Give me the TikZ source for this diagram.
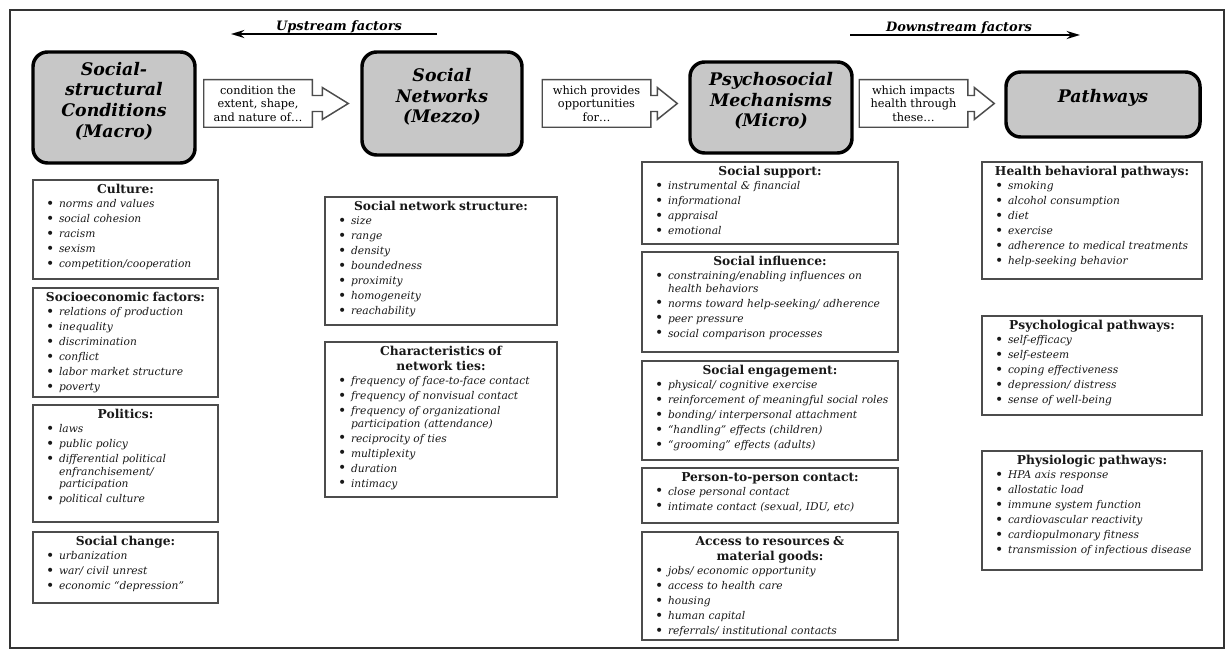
\documentclass[tikz,border=0pt]{standalone}
\usepackage{fontspec}
\setmainfont{DejaVu Serif}
\usetikzlibrary{fit,calc,arrows.meta}

\newcommand\ttl[1]{{\centering\noindent\fontsize{9.2}{11.25}\selectfont\bfseries #1\par}\vspace{-1pt}}
\newcommand\blt{\raisebox{-0.6pt}{\fontsize{10.5}{10}\selectfont\textbullet}}
\newcommand\itm[1]{{\leftskip=15.75pt\rightskip=0pt plus 1fil\noindent\llap{\blt\hspace{3.5pt}}\textit{#1}\par}}

\newcommand\blockarrow[4]{%
  \coordinate (#1-tip) at ($(#1.east -| #2.west)+(-#3,0)$);
  \coordinate (#1-base) at ($(#1-tip)+(-#4,0)$);
  \draw[arrowline] (#1.north west) -- (#1.north east) -- ($(#1.east)+(0,-8)$)
    -- ($(#1-base)+(0,-8)$) -- ($(#1-base)+(0,-16)$) -- (#1-tip)
    -- ($(#1-base)+(0,16)$) -- ($(#1-base)+(0,8)$) -- ($(#1.east)+(0,8)$)
    -- (#1.south east) -- (#1.south west) -- cycle;}

\newcommand\listbox[6]{%
  \node[sbox,fit={(#2,#3) (#4,#5)}] (#1) {};
  \pgfmathsetmacro\lbtw{(#4-#2-10)*0.75}
  \node[stext,text width=\lbtw pt] (#1-t) at ($(#1.north)+(0,5)$) {#6};}

\begin{document}
\begin{tikzpicture}[x=0.75pt,y=-0.75pt,
  frame/.style={draw=black!80,line width=1.6pt},
  bigbox/.style={draw=black,line width=2.6pt,fill=black!22,rounded corners=11pt,inner sep=0pt,align=center,
    font=\fontsize{13}{15.5}\selectfont\bfseries\itshape},
  sbox/.style={draw=black!70,line width=1.1pt,inner sep=0pt},
  stext/.style={anchor=north,inner sep=0pt,text=black!90,
    font=\fontsize{8}{9.5}\selectfont\setlength{\parskip}{1.75pt}\setlength{\parindent}{0pt}},
  abox/.style={inner sep=0pt,minimum width=81pt,minimum height=35.25pt,align=center,
    font=\fontsize{8.5}{10}\selectfont},
  arrowline/.style={draw=black!70,line width=1.1pt},
  hdrarrow/.style={line width=1.5pt,-{Stealth[length=10pt,width=6pt]}},
  hdrtext/.style={font=\fontsize{9.7}{11}\selectfont\bfseries\itshape,inner sep=0pt,anchor=base}]

\useasboundingbox (0,0) rectangle (1227,652);
\fill[white] (0,0) rectangle (1227,652);
\draw[frame] (10,10) rectangle (1224,648);

% header arrows
\coordinate (upR) at (437,34);
\coordinate (upL) at (231,34);
\draw[hdrarrow] (upR) -- (upL);
\node[hdrtext] (up) at (339,31) {Upstream factors};
\coordinate (dnL) at (850,35);
\coordinate (dnR) at (1080,35);
\draw[hdrarrow] (dnL) -- (dnR);
\node[hdrtext] (dn) at (959,32) {Downstream factors};

% main boxes
\node[bigbox,fit={(33,52) (195,163)}] (macro) {Social-\\structural\\Conditions\\(Macro)};
\node[bigbox,fit={(362,52) (522,155)}] (mezzo) {Social\\Networks\\(Mezzo)};
\node[bigbox,fit={(690,62) (852,153)}] (micro) {Psychosocial\\Mechanisms\\(Micro)};
\node[bigbox,fit={(1006,72) (1200,137)}] (path) {Pathways};

% block arrows
\node[abox] (a1) at (258,103.5) {condition the\\extent, shape,\\and nature of\ldots};
\node[abox] (a2) at (596.5,103.5) {which provides\\opportunities\\for\ldots};
\node[abox] (a3) at (913.5,103.5) {which impacts\\health through\\these\ldots};
\blockarrow{a1}{mezzo}{12}{26}
\blockarrow{a2}{micro}{11}{20}
\blockarrow{a3}{path}{10}{20}

% column 1
\listbox{culture}{33}{180}{218}{279}{\ttl{Culture:}
  \itm{norms and values}\itm{social cohesion}\itm{racism}\itm{sexism}\itm{competition/cooperation}}
\listbox{socio}{33}{288}{218}{397}{\ttl{Socioeconomic factors:}
  \itm{relations of production}\itm{inequality}\itm{discrimination}\itm{conflict}\itm{labor market structure}\itm{poverty}}
\listbox{politics}{33}{405}{218}{522}{\ttl{Politics:}
  \itm{laws}\itm{public policy}\itm{differential political\\enfranchisement/\\participation}\itm{political culture}}
\listbox{change}{33}{532}{218}{603}{\ttl{Social change:}
  \itm{urbanization}\itm{war/ civil unrest}\itm{economic ``depression''}}

% column 2
\listbox{sns}{325}{197}{557}{325}{\ttl{Social network structure:}
  \itm{size}\itm{range}\itm{density}\itm{boundedness}\itm{proximity}\itm{homogeneity}\itm{reachability}}
\listbox{ties}{325}{342}{557}{497}{\ttl{Characteristics of\\network ties:}
  \itm{frequency of face-to-face contact}\itm{frequency of nonvisual contact}
  \itm{frequency of organizational\\participation (attendance)}\itm{reciprocity of ties}
  \itm{multiplexity}\itm{duration}\itm{intimacy}}

% column 3
\listbox{support}{642}{162}{898}{244}{\ttl{Social support:}
  \itm{instrumental \& financial}\itm{informational}\itm{appraisal}\itm{emotional}}
\listbox{influence}{642}{252}{898}{352}{\ttl{Social influence:}
  \itm{constraining/enabling influences on\\health behaviors}\itm{norms toward help-seeking/ adherence}
  \itm{peer pressure}\itm{social comparison processes}}
\listbox{engage}{642}{361}{898}{460}{\ttl{Social engagement:}
  \itm{physical/ cognitive exercise}\itm{reinforcement of meaningful social roles}
  \itm{bonding/ interpersonal attachment}\itm{``handling'' effects (children)}\itm{``grooming'' effects (adults)}}
\listbox{contact}{642}{468}{898}{523}{\ttl{Person-to-person contact:}
  \itm{close personal contact}\itm{intimate contact (sexual, IDU, etc)}}
\listbox{access}{642}{532}{898}{640}{\ttl{Access to resources \&\\material goods:}
  \itm{jobs/ economic opportunity}\itm{access to health care}\itm{housing}\itm{human capital}
  \itm{referrals/ institutional contacts}}

% column 4
\listbox{health}{982}{162}{1202}{279}{\ttl{Health behavioral pathways:}
  \itm{smoking}\itm{alcohol consumption}\itm{diet}\itm{exercise}\itm{adherence to medical treatments}
  \itm{help-seeking behavior}}
\listbox{psych}{982}{316}{1202}{415}{\ttl{Psychological pathways:}
  \itm{self-efficacy}\itm{self-esteem}\itm{coping effectiveness}\itm{depression/ distress}\itm{sense of well-being}}
\listbox{physio}{982}{451}{1202}{570}{\ttl{Physiologic pathways:}
  \itm{HPA axis response}\itm{allostatic load}\itm{immune system function}\itm{cardiovascular reactivity}
  \itm{cardiopulmonary fitness}\itm{transmission of infectious disease}}
\end{tikzpicture}
\end{document}
